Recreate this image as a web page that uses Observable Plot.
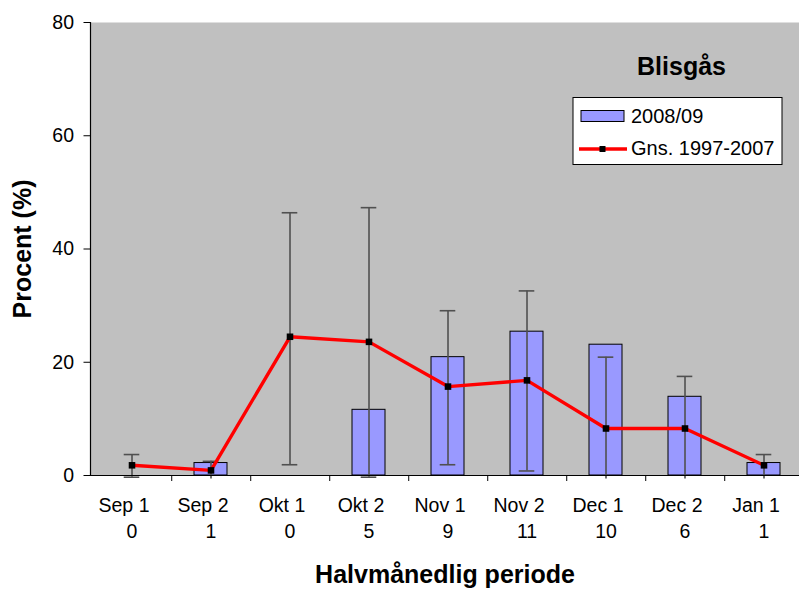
<!DOCTYPE html>
<html>
<head>
<meta charset="utf-8">
<script src="https://cdn.jsdelivr.net/npm/d3@7"></script>
<script src="https://cdn.jsdelivr.net/npm/@observablehq/plot@0.6"></script>
<style>
  html, body { margin: 0; padding: 0; background: white; }
  #chart { width: 799px; height: 592px; }
</style>
</head>
<body>
<div id="chart"></div>
<script>
// ---- data ----
const categories = ["Sep 1", "Sep 2", "Okt 1", "Okt 2", "Nov 1", "Nov 2", "Dec 1", "Dec 2", "Jan 1"];
const counts = ["0", "1", "0", "5", "9", "11", "10", "6", "1"];
const season2008 = [0, 2.2, 0, 11.6, 20.9, 25.4, 23.1, 13.9, 2.2];
const mean19972007 = [1.8, 0.9, 24.5, 23.6, 15.7, 16.8, 8.3, 8.3, 1.8];
const errHigh = [3.7, 2.5, 46.4, 47.3, 29.1, 32.6, 20.9, 17.5, 3.7];
const errLow = [-0.3, -0.7, 1.9, -0.3, 1.9, 0.8, -4.3, -0.9, -0.7];
const yTicks = [0, 20, 40, 60, 80];
const title = "Blisgås";
const seriesNames = ["2008/09", "Gns. 1997-2007"];

const data = categories.map((c, i) => ({
  cat: c, count: counts[i], bar: season2008[i], avg: mean19972007[i], hi: errHigh[i], lo: errLow[i]
}));

const FONT = "'Liberation Sans', Arial, sans-serif";
const xRange = [90, 805];
const step = (xRange[1] - xRange[0]) / categories.length;
const clipLow = -0.6;

const chart = Plot.plot({
  width: 799,
  height: 592,
  marginLeft: 90,
  marginRight: 0,
  marginTop: 22,
  marginBottom: 117,
  style: { fontFamily: FONT, background: "white", color: "black", overflow: "visible" },
  x: { type: "band", domain: categories, range: xRange, paddingInner: 0.58, paddingOuter: 0.29, align: 0.5 },
  y: { domain: [0, 80] },
  marks: [
    Plot.frame({ fill: "#c0c0c0", stroke: "none" }),
    Plot.barY(data.filter(d => d.bar > 0), { x: "cat", y: "bar", fill: "#9999ff", stroke: "black", strokeWidth: 1 }),
    Plot.ruleX(data, { x: "cat", y1: d => Math.max(d.lo, clipLow), y2: "hi", stroke: "#505050", strokeWidth: 1.6 }),
    Plot.tickY(data, { x: "cat", y: "hi", stroke: "#505050", strokeWidth: 1.6, insetLeft: 8.7, insetRight: 8.7 }),
    Plot.tickY(data.filter(d => d.lo > clipLow), { x: "cat", y: "lo", stroke: "#505050", strokeWidth: 1.6, insetLeft: 8.7, insetRight: 8.7 }),
    Plot.line(data, { x: "cat", y: "avg", stroke: "#ff0000", strokeWidth: 3.4 }),
    Plot.dot(data, { x: "cat", y: "avg", symbol: "square", r: 3.7, fill: "black", stroke: "none" }),
    Plot.ruleY([0], { stroke: "black", strokeWidth: 1.2 }),
    Plot.frame({ anchor: "left", stroke: "black", strokeWidth: 1.2 }),
    Plot.axisY({ ticks: yTicks, tickSize: 6.5, tickPadding: 10, fontSize: 19.5, label: null, stroke: "black" }),
    Plot.axisX({ ticks: categories.slice(0, categories.length - 1), tickSize: 6, tickFormat: () => "", dx: step / 2, label: null }),
    Plot.axisX({ tickSize: 0, tickPadding: 23, dx: -8, fontSize: 19.5, label: null }),
    Plot.axisX({ tickSize: 0, tickPadding: 49, tickFormat: d => counts[categories.indexOf(d)], fontSize: 19.5, label: null }),
    Plot.text(["Procent (%)"], { frameAnchor: "left", dx: -68, rotate: -90, text: d => d, fontSize: 25, fontWeight: "bold", textAnchor: "middle", lineAnchor: "middle" }),
    Plot.text(["Halvmånedlig periode"], { frameAnchor: "bottom", dy: 90, text: d => d, fontSize: 25, fontWeight: "bold", lineAnchor: "top" }),
    Plot.text([title], { frameAnchor: "top-left", dx: 591, dy: 35, text: d => d, fontSize: 25, fontWeight: "bold", textAnchor: "middle", lineAnchor: "top" })
  ]
});

document.getElementById("chart").appendChild(chart);

// ---- legend ----
const svg = d3.select(chart);
const lg = svg.append("g").attr("font-family", FONT).attr("font-size", 20).attr("text-anchor", "start");
lg.append("rect").attr("x", 573).attr("y", 97.5).attr("width", 209).attr("height", 67)
  .attr("fill", "white").attr("stroke", "black").attr("stroke-width", 1);
lg.append("rect").attr("x", 581).attr("y", 110.5).attr("width", 43).attr("height", 11)
  .attr("fill", "#9999ff").attr("stroke", "black").attr("stroke-width", 1);
lg.append("text").attr("x", 631).attr("y", 122.5).attr("fill", "black").attr("text-anchor", "start").text(seriesNames[0]);
lg.append("line").attr("x1", 579).attr("x2", 627).attr("y1", 149).attr("y2", 149)
  .attr("stroke", "#ff0000").attr("stroke-width", 3.4);
lg.append("rect").attr("x", 599.5).attr("y", 146).attr("width", 6).attr("height", 6).attr("fill", "black");
lg.append("text").attr("x", 631).attr("y", 154.5).attr("fill", "black").attr("text-anchor", "start").text(seriesNames[1]);
</script>
</body>
</html>
